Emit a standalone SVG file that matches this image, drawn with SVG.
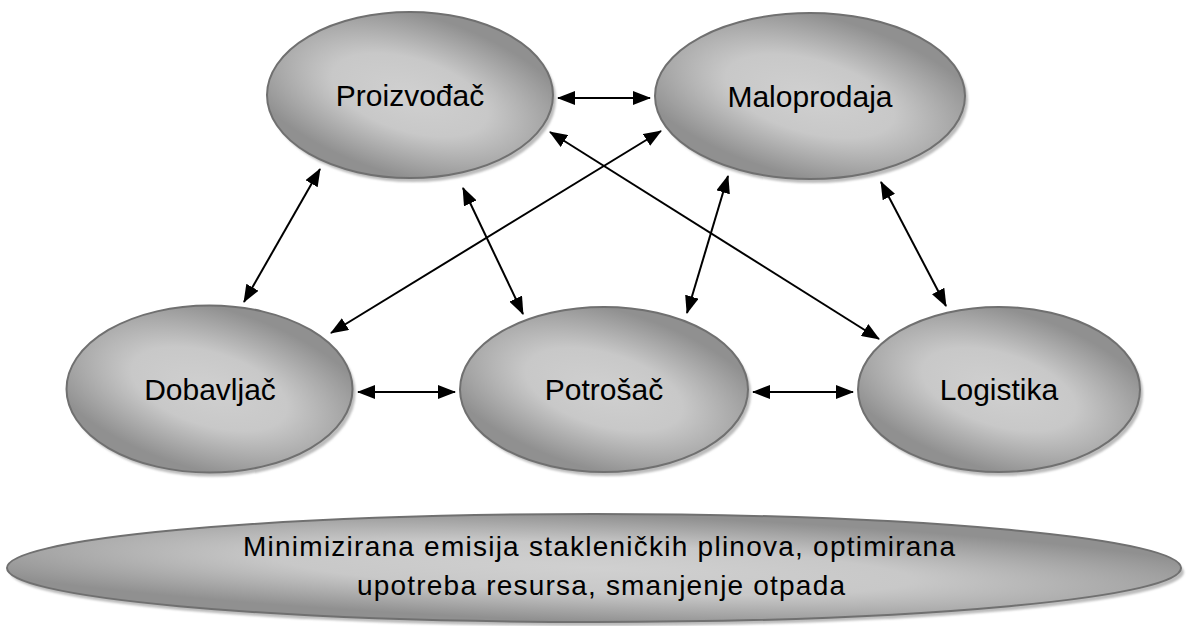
<svg xmlns="http://www.w3.org/2000/svg" width="1186" height="626" viewBox="0 0 1186 626">
<defs>
<radialGradient id="g" cx="0.5" cy="0.5" r="0.7" gradientTransform="translate(0.5 0.5) rotate(40) scale(1 0.62) translate(-0.5 -0.5)">
<stop offset="0" stop-color="#d0d0d0"/>
<stop offset="0.45" stop-color="#c8c8c8"/>
<stop offset="1" stop-color="#909090"/>
</radialGradient>
<filter id="blur" x="-5%" y="-5%" width="110%" height="110%"><feGaussianBlur stdDeviation="1.2"/></filter>
<marker id="ah" viewBox="0 0 18 14" refX="17" refY="7" markerWidth="18" markerHeight="14" markerUnits="userSpaceOnUse" orient="auto-start-reverse">
<path d="M0,0 L18,7 L0,14 z" fill="#000"/>
</marker>
</defs>
<style>
.sh{fill:#bcbcbc;filter:url(#blur)}
.el{fill:url(#g);stroke:#707070;stroke-width:2}
.lb{font-family:"Liberation Sans",Arial,sans-serif;font-size:30px;fill:#000;text-anchor:middle}
.bt{font-family:"Liberation Sans",Arial,sans-serif;font-size:28px;fill:#000}
.cn line{stroke:#000;stroke-width:2;marker-start:url(#ah);marker-end:url(#ah)}
</style>
<rect width="1186" height="626" fill="#fff"/>
<g id="connectors" class="cn">
<line x1="558" y1="98" x2="650" y2="98"/>
<line x1="320" y1="169" x2="244" y2="302"/>
<line x1="463" y1="188" x2="523" y2="314"/>
<line x1="661" y1="131" x2="331" y2="333"/>
<line x1="550" y1="132" x2="879" y2="339"/>
<line x1="728" y1="176" x2="687" y2="313"/>
<line x1="881" y1="182" x2="946" y2="306"/>
<line x1="358" y1="392" x2="455" y2="392"/>
<line x1="753" y1="392" x2="853" y2="392"/>
</g>
<g id="proizvodjac">
<ellipse class="sh" cx="413" cy="99" rx="143" ry="83"/>
<ellipse class="el" cx="410" cy="95" rx="143" ry="83"/>
<text class="lb" x="410" y="106">Proizvođač</text>
</g>
<g id="maloprodaja">
<ellipse class="sh" cx="813" cy="100" rx="155" ry="83"/>
<ellipse class="el" cx="810" cy="96" rx="155" ry="83"/>
<text class="lb" x="810" y="107">Maloprodaja</text>
</g>
<g id="dobavljac">
<ellipse class="sh" cx="212.5" cy="393" rx="143" ry="83.5"/>
<ellipse class="el" cx="209.5" cy="389" rx="143" ry="83.5"/>
<text class="lb" x="210" y="400">Dobavljač</text>
</g>
<g id="potrosac">
<ellipse class="sh" cx="607" cy="393.5" rx="144" ry="82.5"/>
<ellipse class="el" cx="604" cy="389.5" rx="144" ry="82.5"/>
<text class="lb" x="604" y="400">Potrošač</text>
</g>
<g id="logistika">
<ellipse class="sh" cx="1002" cy="393.5" rx="141" ry="82.5"/>
<ellipse class="el" cx="999" cy="389.5" rx="141" ry="82.5"/>
<text class="lb" x="999" y="400">Logistika</text>
</g>
<g id="cilj">
<ellipse class="sh" cx="597" cy="572" rx="587" ry="54"/>
<ellipse class="el" cx="594" cy="568" rx="587" ry="54"/>
<text class="bt" x="243" y="556" textLength="712" lengthAdjust="spacing">Minimizirana emisija stakleničkih plinova, optimirana</text>
<text class="bt" x="357" y="595" textLength="488" lengthAdjust="spacing">upotreba resursa, smanjenje otpada</text>
</g>
</svg>
